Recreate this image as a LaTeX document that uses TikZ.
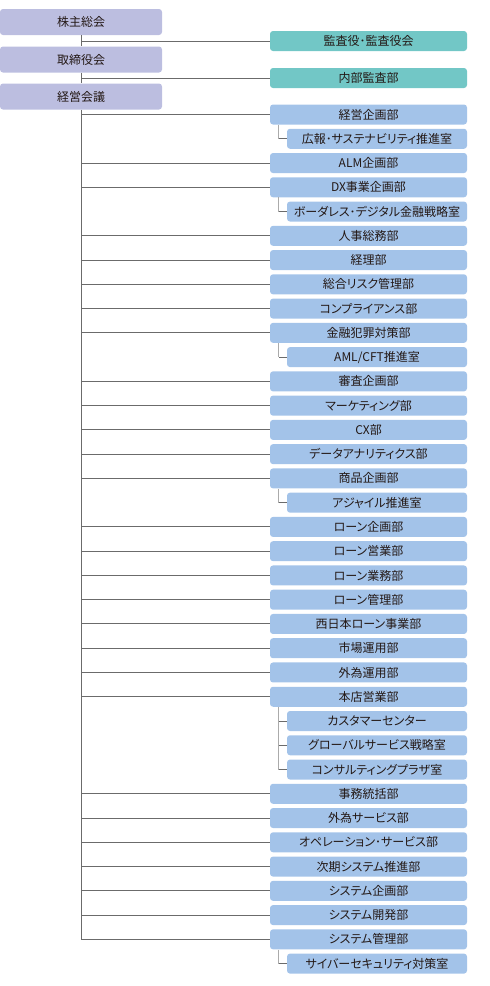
\documentclass[tikz,border=0pt]{standalone}
\usepackage{fontspec}
\setmainfont{Noto Sans CJK JP}[RawFeature=+palt]
\definecolor{lav}{HTML}{BCBEE0}
\definecolor{teal2}{HTML}{72C7C6}
\definecolor{blu}{HTML}{A3C3E9}
\definecolor{txt}{HTML}{231815}
\definecolor{ln}{HTML}{6B6B6B}
\definecolor{lnl}{HTML}{ABABAB}
\tikzset{
  box/.style={rounded corners=3pt, inner sep=0pt, text=txt, font=\fontsize{12}{14}\selectfont},
  lbox/.style={box, fill=lav, minimum width=162pt, minimum height=26pt},
  tbox/.style={box, fill=teal2, minimum width=197pt, minimum height=20pt},
  rbox/.style={box, fill=blu, minimum width=197pt, minimum height=20pt},
  sbox/.style={box, fill=blu, minimum width=180pt, minimum height=20pt},
  line/.style={draw=ln, line width=1pt},
  subv/.style={draw=lnl, line width=1pt},
}
\newcommand\rowbox[3]{\node[rbox] (#1) at (368.5,{-(114.5+24.26*#2)}) {#3};}
\newcommand\subbox[3]{\node[sbox] (#1) at (377,{-(114.5+24.26*#2)}) {#3};}
\begin{document}
\begin{tikzpicture}[x=1pt,y=1pt]
\useasboundingbox (0,0) rectangle (490,-986);
\node[lbox] (top1) at (81,-22) {株主総会};
\node[lbox] (top2) at (81,-59.5) {取締役会};
\node[lbox] (top3) at (81,-96.5) {経営会議};
\node[tbox] (aud) at (368.5,-41) {監査役･監査役会};
\node[tbox] (ia) at (368.5,-78) {内部監査部};
\rowbox{r0}{0}{経営企画部}
\subbox{r1}{1}{広報･サステナビリティ推進室}
\rowbox{r2}{2}{ALM企画部}
\rowbox{r3}{3}{DX事業企画部}
\subbox{r4}{4}{ボーダレス･デジタル金融戦略室}
\rowbox{r5}{5}{人事総務部}
\rowbox{r6}{6}{経理部}
\rowbox{r7}{7}{総合リスク管理部}
\rowbox{r8}{8}{コンプライアンス部}
\rowbox{r9}{9}{金融犯罪対策部}
\subbox{r10}{10}{AML/CFT推進室}
\rowbox{r11}{11}{審査企画部}
\rowbox{r12}{12}{マーケティング部}
\rowbox{r13}{13}{CX部}
\rowbox{r14}{14}{データアナリティクス部}
\rowbox{r15}{15}{商品企画部}
\subbox{r16}{16}{アジャイル推進室}
\rowbox{r17}{17}{ローン企画部}
\rowbox{r18}{18}{ローン営業部}
\rowbox{r19}{19}{ローン業務部}
\rowbox{r20}{20}{ローン管理部}
\rowbox{r21}{21}{西日本ローン事業部}
\rowbox{r22}{22}{市場運用部}
\rowbox{r23}{23}{外為運用部}
\rowbox{r24}{24}{本店営業部}
\subbox{r25}{25}{カスタマーセンター}
\subbox{r26}{26}{グローバルサービス戦略室}
\subbox{r27}{27}{コンサルティングプラザ室}
\rowbox{r28}{28}{事務統括部}
\rowbox{r29}{29}{外為サービス部}
\rowbox{r30}{30}{オペレーション･サービス部}
\rowbox{r31}{31}{次期システム推進部}
\rowbox{r32}{32}{システム企画部}
\rowbox{r33}{33}{システム開発部}
\rowbox{r34}{34}{システム管理部}
\subbox{r35}{35}{サイバーセキュリティ対策室}
% top connectors
\draw[line] (top1.south) -- (top2.north);
\draw[line] (top2.south) -- (top3.north);
\draw[line] (top1.south |- aud.west) -- (aud.west);
\draw[line] (top2.south |- ia.west) -- (ia.west);
\draw[line] (top3.south) -- (top3.south |- r34.west);
\foreach \n in {r0,r2,r3,r5,r6,r7,r8,r9,r11,r12,r13,r14,r15,r17,r18,r19,r20,r21,r22,r23,r24,r28,r29,r30,r31,r32,r33,r34}
  \draw[line] (top3.south |- \n.west) -- (\n.west);
% sub connectors
\foreach \p/\s in {r0/r1,r3/r4,r9/r10,r15/r16,r24/r27,r34/r35}{
  \draw[subv] ([xshift=9pt]\p.south west) -- ([xshift=9pt]\p.south west |- \s.west);
  \draw[line] ([xshift=9pt]\p.south west |- \s.west) -- (\s.west);
}
\foreach \s in {r25,r26}
  \draw[line] ([xshift=9pt]r24.south west |- \s.west) -- (\s.west);
\end{tikzpicture}
\end{document}
